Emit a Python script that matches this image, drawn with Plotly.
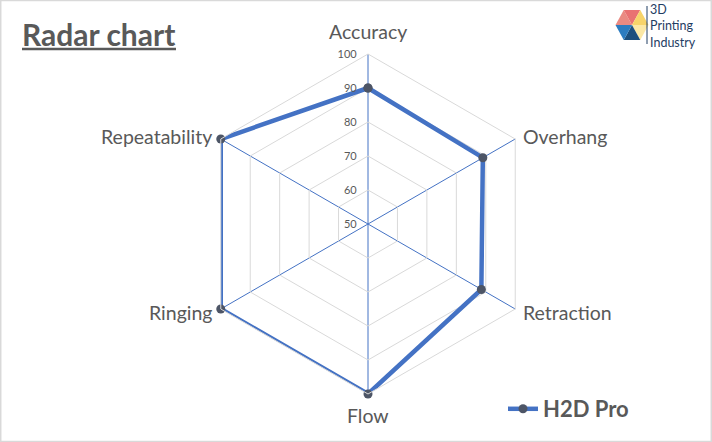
import math
import plotly.graph_objects as go

categories = ["Accuracy", "Overhang", "Retraction", "Flow", "Ringing", "Repeatability"]
values = [90, 89, 88.5, 100, 100, 100]
series_name = "H2D Pro"
radial_ticks = [50, 60, 70, 80, 90, 100]

W, H = 712, 442
BLUE = "#4472C4"
GREY_TXT = "#595959"

fig = go.Figure()
fig.add_trace(go.Scatterpolar(
    r=values + values[:1],
    theta=categories + categories[:1],
    mode="lines+markers",
    name="<b>" + series_name + "</b>",
    line=dict(color=BLUE, width=4.5),
    marker=dict(color="#4d5566", size=9),
))

cx, cy, R = 368, 224, 170


def px(x):
    return x / W


def py(y):
    return 1 - y / H


shapes = [
    dict(type="rect", xref="paper", yref="paper", x0=0.001, x1=0.999, y0=0.001, y1=0.999,
         line=dict(color="#d9d9d9", width=1.5)),
    dict(type="line", xref="paper", yref="paper", x0=px(22), x1=px(176), y0=py(49), y1=py(49),
         line=dict(color=GREY_TXT, width=2.5)),
]

# logo hexagon (decoration)
hx, hy, hr = 632, 25, 16.5
verts = []
for k in range(6):
    a = math.radians(180 - 60 * k)
    verts.append((hx + hr * math.cos(a), hy - hr * math.sin(a) * 1.05))
tri_colors = ["#ea8a82", "#e97272", "#f7d46a", "#fbe8a6", "#1c4f7e", "#2c7cc0"]
for k in range(6):
    p1 = verts[k]
    p2 = verts[(k + 1) % 6]
    path = "M {} {} L {} {} L {} {} Z".format(px(hx), py(hy), px(p1[0]), py(p1[1]), px(p2[0]), py(p2[1]))
    shapes.append(dict(type="path", xref="paper", yref="paper", path=path,
                       fillcolor=tri_colors[k], line=dict(width=0)))
shapes.append(dict(type="line", xref="paper", yref="paper", x0=px(647), x1=px(647), y0=py(6), y1=py(44),
                   line=dict(color="#1f3d63", width=1)))

annotations = [
    dict(text="<b>Radar chart</b>", x=px(20), y=py(34), xref="paper", yref="paper",
         xanchor="left", yanchor="middle", showarrow=False,
         font=dict(family="Lato", size=30, color=GREY_TXT)),
    dict(text="3D<br>Printing<br>Industry", x=px(649), y=py(26), xref="paper", yref="paper",
         xanchor="left", yanchor="middle", align="left", showarrow=False, borderpad=0,
         font=dict(family="Lato", size=12.5, color="#1f3d63")),
]

# category labels placed just outside each spoke
n = len(categories)
for i, name in enumerate(categories):
    ang = math.radians(90 - 360.0 * i / n)
    vx = cx + R * math.cos(ang)
    vy = cy - R * math.sin(ang)
    if abs(math.cos(ang)) < 0.01:
        xa = "center"
        lx = vx
        ly = vy - 22 if math.sin(ang) > 0 else vy + 21
    else:
        xa = "left" if math.cos(ang) > 0 else "right"
        lx = vx + (6 if math.cos(ang) > 0 else -7)
        ly = vy - 3 if math.sin(ang) > 0 else vy + 3
    annotations.append(dict(text=name, x=px(lx), y=py(ly), xref="paper", yref="paper",
                            xanchor=xa, yanchor="middle", showarrow=False,
                            font=dict(family="Lato", size=19.5, color=GREY_TXT)))

fig.update_layout(
    width=W, height=H,
    margin=dict(l=0, r=0, t=0, b=0),
    paper_bgcolor="white",
    plot_bgcolor="white",
    font=dict(family="Lato", color=GREY_TXT),
    polar=dict(
        domain=dict(x=[px(cx - R), px(cx + R)], y=[py(cy + R), py(cy - R)]),
        gridshape="linear",
        bgcolor="white",
        radialaxis=dict(
            range=[50, 100], tickvals=radial_ticks, angle=90, tickangle=90,
            showline=False, gridcolor="#d9d9d9", gridwidth=1,
            tickfont=dict(size=11, color=GREY_TXT),
            ticks="outside", ticklen=7, tickcolor="rgba(0,0,0,0)",
            side="counterclockwise",
        ),
        angularaxis=dict(
            categoryarray=categories, categoryorder="array",
            rotation=90, direction="clockwise",
            gridcolor=BLUE, gridwidth=0.8,
            showline=True, linecolor="#d9d9d9", linewidth=1,
            ticks="", showticklabels=False,
        ),
    ),
    showlegend=True,
    legend=dict(x=px(503), y=py(409), xanchor="left", yanchor="middle",
                font=dict(family="Lato", size=22, color=GREY_TXT),
                bgcolor="rgba(0,0,0,0)"),
    shapes=shapes,
    annotations=annotations,
)

fig.write_html("out.html", config={"displayModeBar": False},
               post_script="document.body.style.margin='0';document.body.style.overflow='hidden';")
